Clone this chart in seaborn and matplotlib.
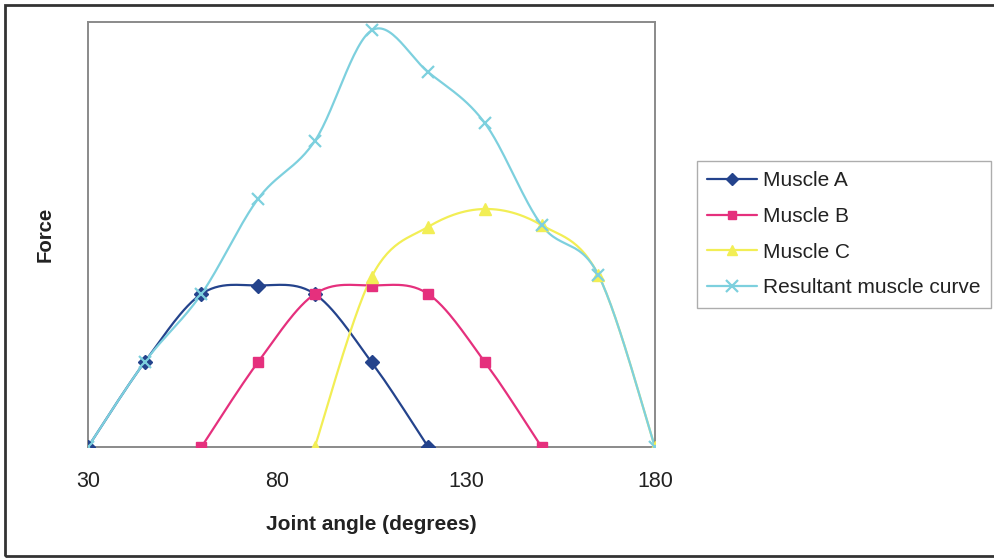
import numpy as np
import pandas as pd
import matplotlib
matplotlib.use("Agg")
import matplotlib.pyplot as plt
from matplotlib.lines import Line2D
from matplotlib.patches import Rectangle
import seaborn as sns

# ---- data ----
angles_a = [30, 45, 60, 75, 90, 105, 120]
muscle_a = [0, 2.0, 3.6, 3.8, 3.6, 2.0, 0]
angles_b = [60, 75, 90, 105, 120, 135, 150]
muscle_b = [0, 2.0, 3.6, 3.8, 3.6, 2.0, 0]
angles_c = [90, 105, 120, 135, 150, 165, 180]
muscle_c = [0, 4.0, 5.18, 5.6, 5.22, 4.05, 0]
angles_r = [30, 45, 60, 75, 90, 105, 120, 135, 150, 165, 180]
resultant = [0, 2.0, 3.6, 5.84, 7.2, 9.8, 8.82, 7.62, 5.22, 4.05, 0]
x_ticks = [30, 80, 130, 180]
series_names = ["Muscle A", "Muscle B", "Muscle C", "Resultant muscle curve"]

sns.set_theme(style="white")
plt.rcParams['font.family'] = ['Liberation Sans', 'DejaVu Sans']

fig = plt.figure(figsize=(9.94, 5.59), dpi=100)
W, H = 994, 559
ax = fig.add_axes([88 / W, 1 - 447 / H, (655 - 88) / W, (447 - 22) / H])


def smooth(xs, ys, n=30):
    """Catmull-Rom (Excel-like) smoothing of the polyline through the points."""
    P = np.column_stack([xs, ys]).astype(float)
    out = [P[0]]
    for i in range(len(P) - 1):
        p0 = P[i - 1] if i > 0 else P[i]
        p1, p2 = P[i], P[i + 1]
        p3 = P[i + 2] if i + 2 < len(P) else P[i + 1]
        c1 = p1 + (p2 - p0) / 6
        c2 = p2 - (p3 - p1) / 6
        t = np.linspace(0, 1, n)[1:, None]
        seg = ((1 - t) ** 3) * p1 + 3 * ((1 - t) ** 2) * t * c1 + 3 * (1 - t) * t ** 2 * c2 + t ** 3 * p2
        out.extend(seg)
    out = np.array(out)
    return out[:, 0], out[:, 1]


styles = [
    (angles_a, muscle_a, "#24438C", "D", 7),
    (angles_b, muscle_b, "#E5307D", "s", 7),
    (angles_c, muscle_c, "#F2EE55", "^", 8),
    (angles_r, resultant, "#7DD0DE", "x", 9),
]

handles = []
for (xs, ys, col, mk, ms), name in zip(styles, series_names):
    sx, sy = smooth(xs, ys)
    df_line = pd.DataFrame({"x": sx, "y": sy})
    sns.lineplot(data=df_line, x="x", y="y", ax=ax, color=col, linewidth=1.6,
                 sort=False, estimator=None)
    df_pts = pd.DataFrame({"x": xs, "y": ys})
    if mk == "x":
        ax.plot(df_pts["x"], df_pts["y"], linestyle="none", marker="x",
                markersize=ms, markeredgewidth=1.6, color=col, zorder=5)
    else:
        ax.plot(df_pts["x"], df_pts["y"], linestyle="none", marker=mk,
                markersize=ms, color=col, markeredgecolor=col, zorder=5)
    handles.append(Line2D([0], [0], color=col, linewidth=1.6, marker=mk,
                          markersize=ms - 1, markeredgewidth=1.6 if mk == "x" else 1,
                          markeredgecolor=col))

ax.set_xlim(30, 180)
ax.set_ylim(0, 10)
ax.set_xticks(x_ticks)
ax.set_xticklabels([str(v) for v in x_ticks])
ax.set_yticks([])
ax.tick_params(axis="x", direction="out", length=4, width=1, color="#808080",
               labelsize=15.5, labelcolor="#222222", pad=13.5)
for s in ax.spines.values():
    s.set_color("#8A8A8A")
    s.set_linewidth(1.4)
ax.set_xlabel("Joint angle (degrees)", fontsize=15, fontweight="bold",
              color="#222222", labelpad=16)
ax.set_ylabel("Force", fontsize=14.7, fontweight="bold", color="#222222", labelpad=24)
ax.set_facecolor("white")

leg = fig.legend(handles, series_names, loc="upper left",
                 bbox_to_anchor=(697 / W, 1 - 161 / H), frameon=True,
                 fontsize=15, handlelength=2.4, handletextpad=0.25,
                 labelspacing=0.8, borderpad=0.5, fancybox=False,
                 borderaxespad=0)
leg.get_frame().set_edgecolor("#999999")
leg.get_frame().set_linewidth(1.0)
for t in leg.get_texts():
    t.set_color("#222222")

fig.patches.append(Rectangle((5 / W, 3 / H), (W + 10) / W, (H - 8) / H,
                             transform=fig.transFigure, fill=False,
                             edgecolor="#333333", linewidth=2))

fig.savefig("out.png", dpi=100)
